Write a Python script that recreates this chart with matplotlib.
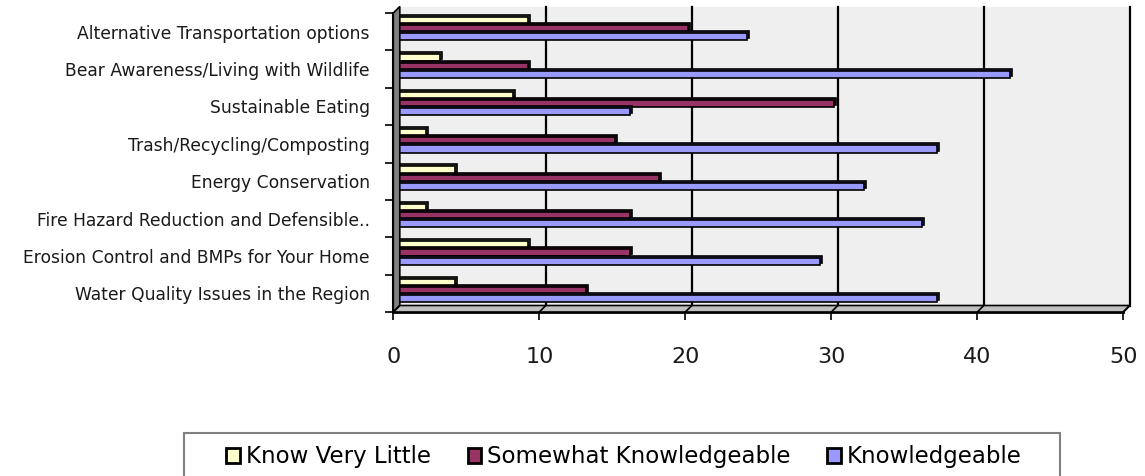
import numpy as np
import matplotlib
matplotlib.use("Agg")
import matplotlib.pyplot as plt
import matplotlib.transforms as mtransforms
from matplotlib.patches import Rectangle, Polygon

# survey topics, bottom to top as drawn
topics = [
    "Water Quality Issues in the Region",
    "Erosion Control and BMPs for Your Home",
    "Fire Hazard Reduction and Defensible..",
    "Energy Conservation",
    "Trash/Recycling/Composting",
    "Sustainable Eating",
    "Bear Awareness/Living with Wildlife",
    "Alternative Transportation options",
]
series_names = ["Know Very Little", "Somewhat Knowledgeable", "Knowledgeable"]
know_little = [4, 9, 2, 4, 2, 8, 3, 9]
somewhat = [13, 16, 16, 18, 15, 30, 9, 20]
knowledgeable = [37, 29, 36, 32, 37, 16, 42, 24]
x_ticks = [0, 10, 20, 30, 40, 50]

colors = ["#FFFFCC", "#993366", "#9999FF"]
dark = ["#77775a", "#4d1a33", "#4d4d88"]

plt.rcParams["font.family"] = ["DejaVu Sans"]

fig = plt.figure(figsize=(11.45, 4.76), dpi=100)
W, H = 1145, 476
ax = fig.add_axes([393.3 / W, 1 - 312 / H, 730 / W, 299 / H])
ax.set_xlim(0, 50)
ax.set_ylim(-0.5, len(topics) - 0.5)
ax.set_facecolor("none")

dx, dy = 6.5, 6.5
back = mtransforms.offset_copy(ax.transData, fig=fig, x=dx, y=dy, units="dots")
mid = mtransforms.offset_copy(ax.transData, fig=fig, x=3, y=3, units="dots")
cap = mtransforms.offset_copy(ax.transData, fig=fig, x=5, y=5, units="dots")

y0, y1 = -0.5, len(topics) - 0.5

# back wall
ax.add_patch(Rectangle((0, y0), 50, y1 - y0, transform=back, facecolor="#efefef",
                       edgecolor="none", zorder=0, clip_on=False))
# gridlines on back wall
for xt in x_ticks[1:]:
    ax.plot([xt, xt], [y0, y1], transform=back, color="black", lw=1.6,
            zorder=1, clip_on=False)


def disp(x, y, off=False):
    p = ax.transData.transform((x, y))
    if off:
        p = p + np.array([dx, dy])
    return p


ident = mtransforms.IdentityTransform()
# left wall
lw_pts = [disp(0, y0), disp(0, y1), disp(0, y1, True), disp(0, y0, True)]
fig.patches.append(Polygon(lw_pts, closed=True, transform=ident, facecolor="#808080",
                           edgecolor="black", lw=1.2, zorder=1))
# floor
fl_pts = [disp(0, y0), disp(50, y0), disp(50, y0, True), disp(0, y0, True)]
fig.patches.append(Polygon(fl_pts, closed=True, transform=ident, facecolor="#c0c0c0",
                           edgecolor="black", lw=1.2, zorder=1))
# floor grid slants
for xt in x_ticks:
    a, b = disp(xt, y0), disp(xt, y0, True)
    fig.lines.append(plt.Line2D([a[0], b[0]], [a[1], b[1]], transform=ident,
                                color="black", lw=1.2))

# bars
ypos = np.arange(len(topics))
offsets = [0.22, 0.0, -0.22]
h = 0.19
all_vals = [know_little, somewhat, knowledgeable]
for i, vals in enumerate(all_vals):
    ax.barh(ypos + offsets[i], vals, height=h, color=dark[i], edgecolor="black",
            lw=1.2, transform=cap, zorder=3 + 2 * i, clip_on=False)
    ax.barh(ypos + offsets[i], vals, height=h, color=colors[i], edgecolor="black",
            lw=1.2, transform=mid, zorder=4 + 2 * i, clip_on=False)

# axes styling
for s in ["top", "right"]:
    ax.spines[s].set_visible(False)
ax.spines["left"].set_linewidth(1.5)
ax.spines["bottom"].set_linewidth(2)
ax.spines["left"].set_zorder(12)
ax.spines["bottom"].set_zorder(12)

ax.set_xticks(x_ticks)
ax.set_xticklabels([str(v) for v in x_ticks], fontsize=16, color="#1a1a1a")
ax.tick_params(axis="x", length=6, width=1.2, pad=19)

ax.set_yticks(ypos)
ax.set_yticklabels(topics, fontsize=12.3, color="#1a1a1a")
ax.set_yticks(np.arange(len(topics) + 1) - 0.5, minor=True)
ax.tick_params(axis="y", which="major", length=0, pad=17)
ax.tick_params(axis="y", which="minor", length=6, width=1.2)

# legend box drawn by hand, entries from the legend
fig.patches.append(Rectangle((184, -10), 1060 - 184, (H - 433) + 10, transform=ident,
                             facecolor="white", edgecolor="#808080", lw=1.5, zorder=0))
handles = [Rectangle((0, 0), 1, 1, facecolor=c, edgecolor="black", lw=2) for c in colors]
fig.legend(handles, series_names, loc="center",
           bbox_to_anchor=(624 / W, 1 - 457 / H), ncol=3, fontsize=16.5,
           frameon=False, handlelength=0.6, handleheight=0.6, handletextpad=0.25,
           columnspacing=1.6)

fig.savefig("out.png", dpi=100)
